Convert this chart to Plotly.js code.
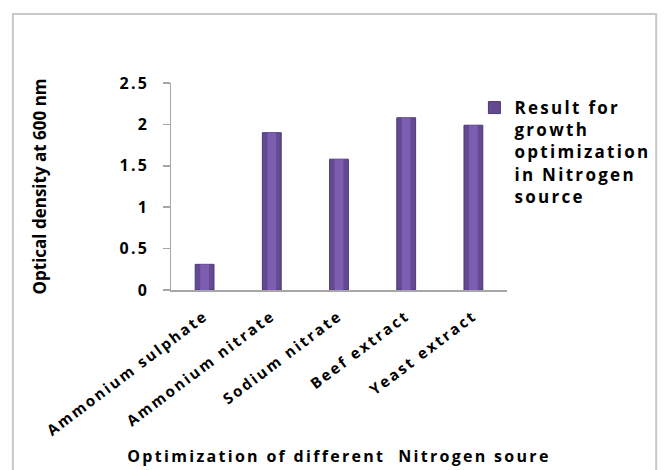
<!DOCTYPE html>
<html>
<head>
<meta charset="utf-8">
<script src="https://cdn.plot.ly/plotly-3.0.1.min.js"></script>
<style>
html,body{margin:0;padding:0;background:#fff;}
/* the reference lettering is widely spaced */
svg text{letter-spacing:2.3px;}
.g-ytitle text{letter-spacing:0px;}
</style>
</head>
<body>
<div id="chart"></div>
<script>
const categories = ["Ammonium sulphate", "Ammonium nitrate", "Sodium nitrate", "Beef extract", "Yeast extract"];
const densityValues = [0.31, 1.9, 1.58, 2.08, 1.99];
const seriesName = "Result for<br>growth<br>optimization<br>in Nitrogen<br>source";
const yTickValues = [0, 0.5, 1, 1.5, 2, 2.5];
const yTickLabels = ["0", "0.5", "1", "1.5", "2", "2.5"];

const FONT = "Open Sans";
const data = [{
  type: "bar",
  x: categories,
  y: densityValues,
  name: seriesName,
  marker: {color: "#644a93", line: {color: "#4c3874", width: 1}},
  hoverinfo: "x+y"
}, {
  // lighter centre of each cylinder-like bar
  type: "bar",
  x: categories,
  y: densityValues,
  width: 0.13,
  showlegend: false,
  hoverinfo: "skip",
  marker: {color: "#7c5db0", line: {width: 0}}
}];

const layout = {
  width: 668, height: 470,
  margin: {l: 171, r: 157, t: 83, b: 180},
  paper_bgcolor: "#ffffff", plot_bgcolor: "#ffffff",
  font: {family: FONT, size: 16, color: "#000000", weight: "bold"},
  barmode: "overlay",
  bargap: 0.72,
  showlegend: true,
  legend: {x: 0.903, xanchor: "left", y: 0.966, yanchor: "top", valign: "top",
           font: {family: FONT, size: 17, color: "#000", weight: "bold"}, bgcolor: "rgba(0,0,0,0)"},
  xaxis: {
    type: "category",
    showline: true, linecolor: "#a6a6a6", linewidth: 1.5,
    ticks: "", tickangle: -37,
    ticklabelstandoff: 10,
    tickfont: {family: FONT, size: 15, color: "#000", weight: "bold"},
    showgrid: false, zeroline: false,
    title: {text: "Optimization of different  Nitrogen soure", font: {family: FONT, size: 16, color: "#000", weight: "bold"}, standoff: 12}
  },
  yaxis: {
    range: [0, 2.5], tickmode: "array", tickvals: yTickValues, ticktext: yTickLabels,
    showline: true, linecolor: "#a6a6a6", linewidth: 1.5,
    ticks: "outside", ticklen: 7, tickcolor: "#a6a6a6", tickwidth: 1.5,
    ticklabelstandoff: 10,
    tickfont: {family: FONT, size: 16, color: "#000", weight: "bold"},
    showgrid: false, zeroline: false,
    title: {text: "Optical density at 600 nm", font: {family: FONT, size: 17, color: "#000", weight: "bold"}, standoff: 68}
  },
  shapes: [{type: "rect", xref: "paper", yref: "paper", x0: -0.4706, x1: 1.4441, y0: -0.9, y1: 1.3333,
            line: {color: "#c8c8c8", width: 2}, fillcolor: "rgba(0,0,0,0)", layer: "below"}]
};

Plotly.newPlot("chart", data, layout, {displayModeBar: false, staticPlot: true});
</script>
</body>
</html>
